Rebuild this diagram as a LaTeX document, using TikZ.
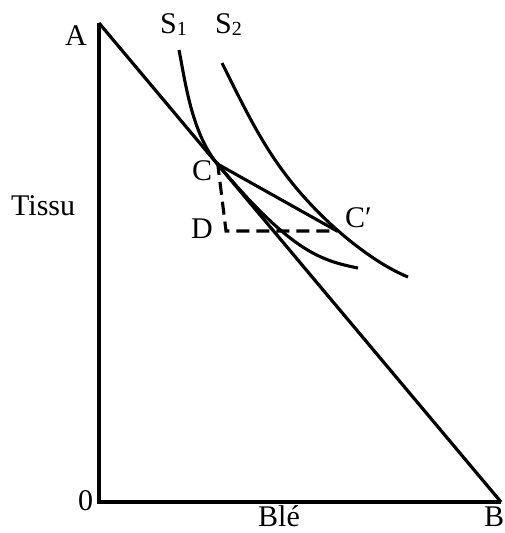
\documentclass[tikz,border=0pt]{standalone}
\usepackage{fontspec}
\setmainfont{Liberation Serif}
\begin{document}
\begin{tikzpicture}[x=1pt,y=-1pt,
  lbl/.style={anchor=base west,inner sep=0pt,font=\fontsize{30}{36}\selectfont},
  axisline/.style={line width=3.2pt,line join=miter},
  curveline/.style={line width=3.1pt},
  dashline/.style={line width=3.1pt,dash pattern=on 13pt off 7pt}]
\useasboundingbox (0,0) rectangle (504,533);
% key points
\coordinate (A) at (99,23);
\coordinate (O) at (99,502);
\coordinate (B) at (501,502);
\coordinate (C) at (217.5,164);
\coordinate (D) at (226,231);
\coordinate (Cp) at (337,231);
% axes and budget line
\draw[axisline] (A) -- (O) -- (B);
\draw[axisline] (A) -- (B);
% indifference curve S1
\draw[curveline] (179,50) .. controls (185,80) and (191.5,133.1) .. (C)
  .. controls (291,251.3) and (320,260.4) .. (358,268);
% indifference curve S2
\draw[curveline] (222,63) .. controls (240,99) and (257,135) .. (280,167)
  .. controls (317,219) and (371,262) .. (408,277);
% C to C'
\draw[curveline] (C) -- (Cp);
% dashed C - D - C'
\draw[dashline] ([yshift=2pt]C) -- (D) -- (Cp);
% labels
\node[lbl] (lA) at (65,45) {A};
\node[lbl] (lS1) at (160,33) {S\raisebox{-2pt}{\fontsize{20}{20}\selectfont 1}};
\node[lbl] (lS2) at (215,33) {S\raisebox{-2pt}{\fontsize{20}{20}\selectfont 2}};
\node[lbl] (lT) at (11,215) {Tissu};
\node[lbl] (lC) at (192,180) {C};
\node[lbl] (lD) at (191,238) {D};
\node[lbl] (lCp) at (345,227) {C′};
\node[lbl] (l0) at (78,510) {0};
\node[lbl] (lBle) at (258,526) {Blé};
\node[lbl] (lB) at (484,526) {B};
\end{tikzpicture}
\end{document}
